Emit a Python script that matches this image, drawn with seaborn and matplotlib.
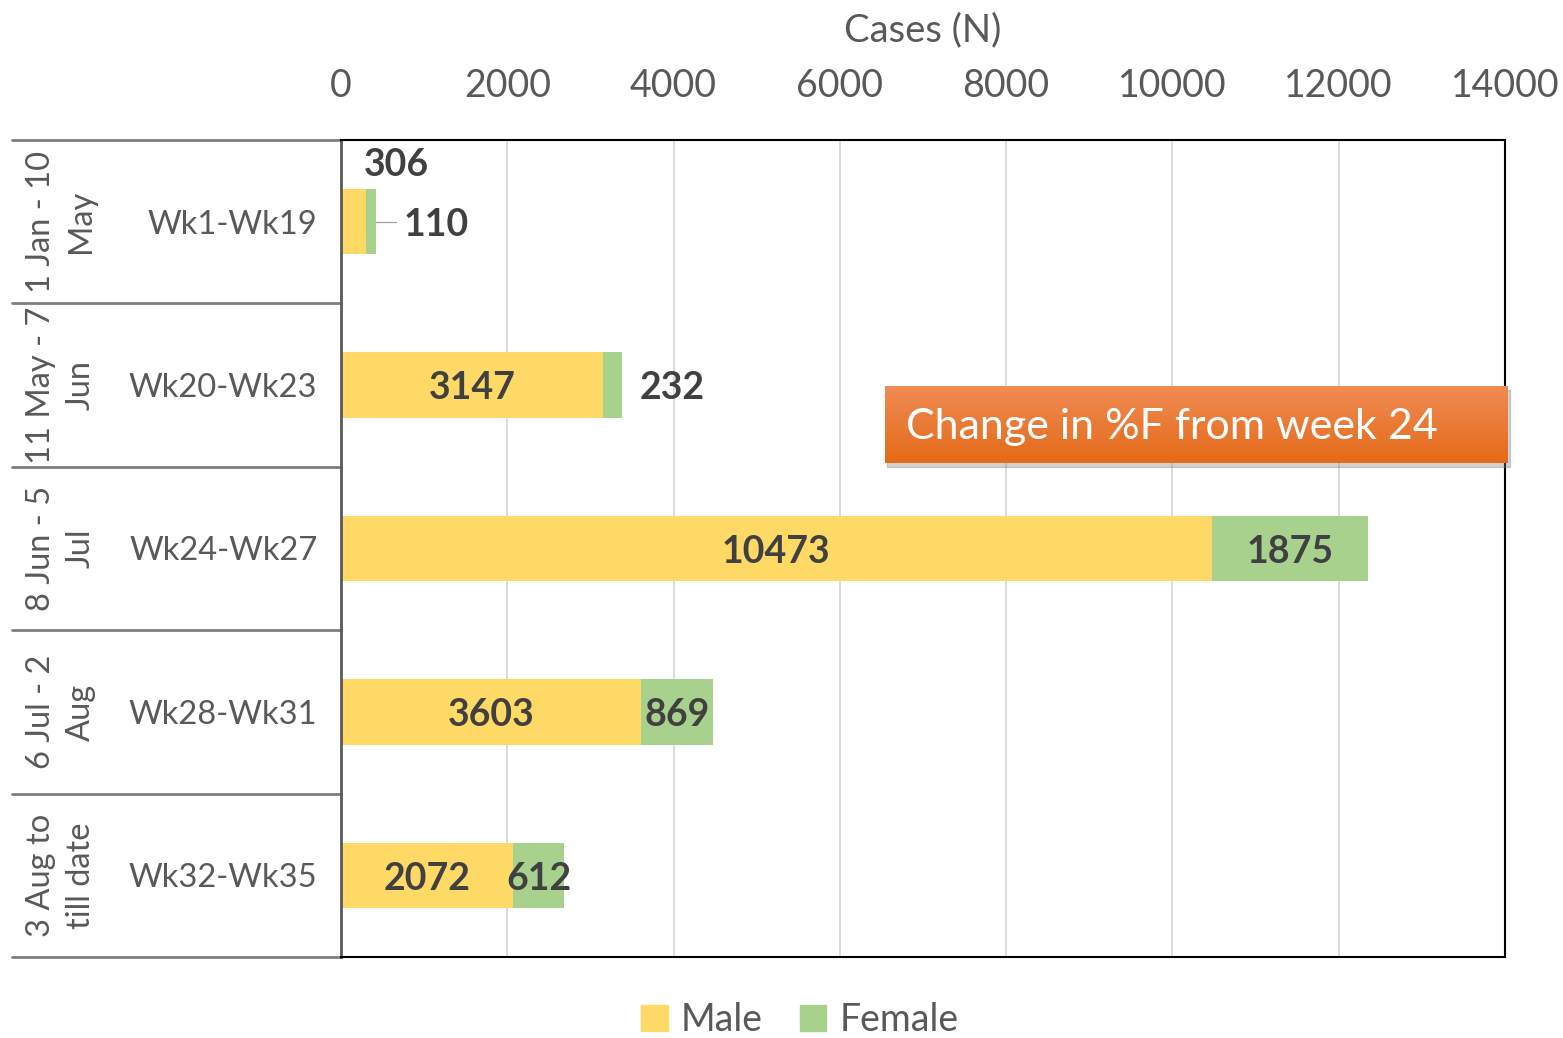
import numpy as np
import pandas as pd
import seaborn as sns
import matplotlib.pyplot as plt
from matplotlib.patches import Patch, Rectangle
from matplotlib.colors import LinearSegmentedColormap

# data
weeks = ["Wk1-Wk19", "Wk20-Wk23", "Wk24-Wk27", "Wk28-Wk31", "Wk32-Wk35"]
periods = ["1 Jan - 10\nMay", "11 May - 7\nJun", "8 Jun - 5\nJul",
           "6 Jul - 2\nAug", "3 Aug to\ntill date"]
male = [306, 3147, 10473, 3603, 2072]
female = [110, 232, 1875, 869, 612]
x_ticks = [0, 2000, 4000, 6000, 8000, 10000, 12000, 14000]

YELLOW = "#FFD966"
GREEN = "#A9D18E"
GREY_TXT = "#595959"
DARK_TXT = "#404040"

df = pd.DataFrame({"Week": weeks, "Male": male, "Female": female})
df["Total"] = df["Male"] + df["Female"]

sns.set_style("white")
plt.rcParams["font.family"] = ["Lato", "DejaVu Sans"]

W, H = 1563, 1038
fig = plt.figure(figsize=(W / 100, H / 100), dpi=100)
ax = fig.add_axes([341 / W, 1 - 957 / H, 1164 / W, 817 / H])

# stacked bars: total in green, male drawn over it
sns.barplot(data=df, x="Total", y="Week", orient="h", color=GREEN, width=0.4,
            saturation=1, errorbar=None, linewidth=0, ax=ax)
sns.barplot(data=df, x="Male", y="Week", orient="h", color=YELLOW, width=0.4,
            saturation=1, errorbar=None, linewidth=0, ax=ax)

ax.set_xlim(0, 14000)
ax.set_ylim(4.5, -0.5)
ax.set_xticks(x_ticks)
ax.xaxis.tick_top()
ax.xaxis.set_label_position("top")
ax.set_xlabel("Cases (N)", fontsize=27.5, color=GREY_TXT, labelpad=19)
ax.set_ylabel("")
ax.tick_params(axis="x", length=0, labelsize=27, labelcolor=GREY_TXT, pad=26)
ax.tick_params(axis="y", length=0, labelsize=23.5, labelcolor=GREY_TXT, pad=17)
ax.grid(axis="x", color="#D9D9D9", lw=1.3)
ax.set_axisbelow(True)
for side in ["top", "right", "bottom"]:
    ax.spines[side].set_color("black")
    ax.spines[side].set_linewidth(1.5)
ax.spines["left"].set_color("#595959")
ax.spines["left"].set_linewidth(2)

# group separators and period labels on the left
ytr = ax.get_yaxis_transform()
for y in np.arange(-0.5, 5, 1):
    ax.plot([-329 / 1164, 0], [y, y], transform=ytr, clip_on=False,
            color="#7F7F7F", lw=2)
for i, p in enumerate(periods):
    ax.text(-(341 - 61) / 1164, i, p, transform=ytr, rotation=90,
            ha="center", va="center", multialignment="center",
            fontsize=23.5, color=GREY_TXT, linespacing=1.4)

# data labels
lab = dict(fontsize=27, fontweight="bold", color=DARK_TXT, va="center")
for i in range(len(weeks)):
    m, f = male[i], female[i]
    if i == 0:
        ax.text(m / 2 + 508, i - 0.35, str(m), ha="center", **lab)
        ax.plot([m + f, m + f + 250], [i, i], color="#A6A6A6", lw=1)
        ax.text(m + f + 340, i + 0.02, str(f), ha="left", **lab)
    elif i == 1:
        ax.text(m / 2, i + 0.02, str(m), ha="center", **lab)
        ax.text(m + f + 610, i + 0.02, str(f), ha="center", **lab)
    else:
        ax.text(m / 2, i + 0.02, str(m), ha="center", **lab)
        ax.text(m + f / 2, i + 0.02, str(f), ha="center", **lab)

# orange call-out box
bx, by, bw, bh = 885, 386, 623, 77
shadow = Rectangle(((bx + 2) / W, 1 - (by + bh + 4) / H), bw / W, bh / H,
                   transform=fig.transFigure, color="#7F7F7F", alpha=0.35, zorder=1)
fig.patches.append(shadow)
box_ax = fig.add_axes([bx / W, 1 - (by + bh) / H, bw / W, bh / H])
box_ax.set_zorder(3)
cmap = LinearSegmentedColormap.from_list("orange", ["#F08C55", "#E46A18"])
box_ax.imshow(np.linspace(0, 1, 100).reshape(-1, 1), aspect="auto", cmap=cmap,
              extent=[0, 1, 0, 1])
box_ax.set_axis_off()
box_ax.text(0.034, 0.47, "Change in %F from week 24", color="white",
            fontsize=31, va="center", ha="left", transform=box_ax.transAxes)

# legend
handles = [Patch(color=YELLOW, label="Male"), Patch(color=GREEN, label="Female")]
fig.legend(handles=handles, loc="center", bbox_to_anchor=(800 / W, 1 - 1020 / H),
           ncol=2, frameon=False, fontsize=27, handlelength=0.7, handleheight=0.7,
           handletextpad=0.35, columnspacing=1.0, labelcolor=GREY_TXT)

fig.savefig("out.png", dpi=100)
